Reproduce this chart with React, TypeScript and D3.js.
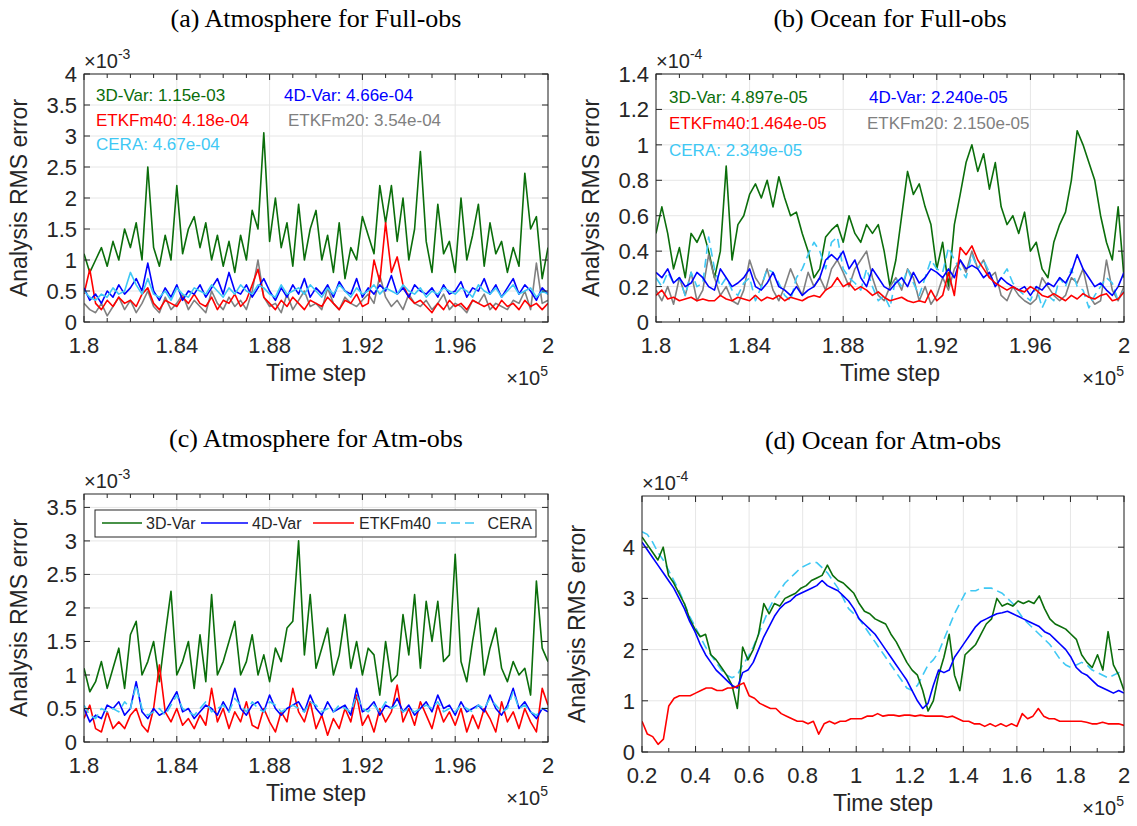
import * as d3 from 'd3'

// ---- data ----
// panels a-c: time steps 1.8e5 .. 2.0e5, evenly spaced samples
const aVar3 = [1.1,0.8,1.0,1.2,0.9,1.3,1.0,1.5,1.2,1.6,1.0,2.5,1.2,0.9,1.4,1.0,2.2,1.1,1.5,1.7,1.2,1.6,1.0,1.4,0.9,1.3,0.8,1.4,1.0,1.8,1.5,3.05,1.3,2.0,1.2,1.6,0.9,1.9,1.0,1.5,1.8,1.0,1.4,0.8,1.6,0.7,1.2,1.0,1.7,1.4,1.1,2.2,1.6,2.2,1.3,2.0,1.0,1.5,2.75,1.3,0.8,1.9,1.1,1.3,0.8,2.0,1.0,1.4,1.9,0.9,1.6,1.1,1.3,0.8,1.2,0.9,2.4,1.5,1.7,0.7,1.2]
const aVar4 = [0.55,0.35,0.45,0.3,0.5,0.4,0.6,0.45,0.55,0.7,0.5,0.95,0.5,0.35,0.55,0.4,0.6,0.35,0.5,0.45,0.6,0.4,0.55,0.7,0.45,0.8,0.5,0.45,0.6,0.4,0.55,0.7,0.5,0.35,0.55,0.4,0.6,0.45,0.7,0.4,0.55,0.45,0.6,0.4,0.65,0.5,0.45,0.7,0.4,0.55,0.45,0.6,0.5,0.75,0.45,0.55,0.4,0.6,0.5,0.45,0.55,0.4,0.6,0.45,0.5,0.65,0.4,0.55,0.5,0.7,0.45,0.6,0.4,0.55,0.7,0.45,0.6,0.5,0.35,0.55,0.45]
const aCera = [0.5,0.4,0.35,0.45,0.4,0.55,0.45,0.5,0.8,0.6,0.45,0.7,0.45,0.4,0.5,0.35,0.55,0.45,0.4,0.55,0.5,0.45,0.6,0.5,0.4,0.55,0.45,0.6,0.5,0.45,0.6,0.55,0.45,0.4,0.6,0.45,0.5,0.55,0.45,0.6,0.5,0.4,0.55,0.45,0.6,0.5,0.4,0.55,0.45,0.5,0.6,0.45,0.55,0.5,0.45,0.6,0.5,0.45,0.55,0.4,0.5,0.45,0.55,0.5,0.45,0.55,0.5,0.4,0.6,0.5,0.45,0.55,0.4,0.5,0.6,0.45,0.5,0.55,0.4,0.5,0.45]
const aEtkf40 = [0.45,0.85,0.3,0.2,0.35,0.25,0.4,0.3,0.35,0.25,0.45,0.55,0.3,0.2,0.35,0.3,0.25,0.4,0.3,0.45,0.3,0.25,0.4,0.2,0.35,0.3,0.45,0.25,0.35,0.6,0.85,0.4,0.3,0.2,0.35,0.25,0.4,0.3,0.2,0.35,0.3,0.25,0.4,0.3,0.2,0.35,0.3,0.45,0.25,0.3,1.0,0.65,1.6,0.8,1.05,0.6,0.4,0.3,0.35,0.25,0.15,0.3,0.2,0.35,0.25,0.3,0.2,0.35,0.3,0.25,0.3,0.2,0.35,0.25,0.3,0.2,0.35,0.25,0.3,0.2,0.3]
const aEtkf20 = [0.3,0.2,0.15,0.3,0.1,0.25,0.4,0.2,0.35,0.15,0.3,0.5,0.25,0.15,0.4,0.2,0.3,0.45,0.2,0.35,0.25,0.15,0.5,0.3,0.2,0.4,0.25,0.35,0.2,0.5,1.0,0.4,0.25,0.3,0.15,0.45,0.2,0.35,0.5,0.25,0.3,0.2,0.55,0.3,0.2,0.4,0.3,0.25,0.35,0.45,0.3,0.75,0.4,0.25,0.35,0.2,0.45,0.3,0.25,0.35,0.2,0.3,0.45,0.2,0.3,0.25,0.15,0.35,0.3,0.45,0.2,0.3,0.25,0.2,0.35,0.3,0.5,0.2,0.95,0.3,0.35]

const bVar3 = [0.5,0.65,0.5,0.3,0.42,0.25,0.5,0.45,0.52,0.4,0.25,0.4,0.88,0.35,0.55,0.6,0.72,0.78,0.7,0.8,0.65,0.82,0.7,0.6,0.62,0.5,0.4,0.25,0.3,0.48,0.52,0.55,0.45,0.6,0.5,0.45,0.55,0.5,0.55,0.4,0.2,0.35,0.6,0.85,0.72,0.78,0.65,0.55,0.3,0.45,0.2,0.55,0.72,0.9,1.0,0.85,0.95,0.75,0.9,0.65,0.55,0.6,0.5,0.62,0.4,0.45,0.3,0.25,0.45,0.55,0.62,0.8,1.08,1.0,0.9,0.8,0.6,0.45,0.35,0.65,0.25]
const bVar4 = [0.28,0.25,0.3,0.22,0.25,0.2,0.22,0.28,0.25,0.2,0.18,0.3,0.25,0.2,0.22,0.25,0.3,0.2,0.18,0.22,0.28,0.2,0.18,0.15,0.2,0.15,0.18,0.2,0.25,0.35,0.38,0.35,0.4,0.3,0.35,0.25,0.2,0.3,0.25,0.2,0.18,0.22,0.25,0.2,0.28,0.22,0.25,0.3,0.28,0.25,0.3,0.25,0.35,0.3,0.32,0.3,0.25,0.28,0.2,0.25,0.22,0.2,0.18,0.2,0.15,0.2,0.18,0.22,0.2,0.25,0.22,0.28,0.38,0.3,0.25,0.2,0.22,0.18,0.15,0.2,0.28]
const bCera = [0.25,0.2,0.28,0.22,0.25,0.15,0.28,0.2,0.22,0.48,0.3,0.2,0.25,0.18,0.15,0.22,0.25,0.12,0.2,0.3,0.28,0.22,0.15,0.12,0.25,0.3,0.38,0.45,0.4,0.3,0.45,0.48,0.3,0.25,0.22,0.18,0.3,0.2,0.12,0.15,0.08,0.25,0.2,0.3,0.22,0.15,0.25,0.35,0.3,0.28,0.42,0.35,0.3,0.25,0.38,0.3,0.35,0.28,0.2,0.25,0.3,0.22,0.18,0.15,0.12,0.2,0.08,0.15,0.12,0.25,0.2,0.3,0.2,0.18,0.08,0.15,0.2,0.25,0.22,0.12,0.18]
const bEtkf40 = [0.15,0.18,0.13,0.14,0.12,0.13,0.14,0.12,0.13,0.12,0.12,0.15,0.13,0.12,0.14,0.13,0.12,0.15,0.12,0.14,0.13,0.15,0.12,0.14,0.13,0.12,0.14,0.15,0.14,0.18,0.2,0.25,0.2,0.22,0.18,0.2,0.18,0.15,0.17,0.14,0.12,0.13,0.14,0.12,0.11,0.12,0.11,0.18,0.12,0.15,0.28,0.15,0.42,0.38,0.43,0.35,0.3,0.25,0.22,0.2,0.18,0.2,0.18,0.17,0.2,0.18,0.15,0.14,0.16,0.14,0.12,0.15,0.13,0.16,0.14,0.13,0.15,0.16,0.12,0.13,0.17]
const bEtkf20 = [0.18,0.12,0.2,0.1,0.25,0.15,0.28,0.12,0.18,0.38,0.25,0.15,0.2,0.12,0.1,0.18,0.35,0.25,0.2,0.3,0.18,0.12,0.2,0.3,0.22,0.15,0.28,0.2,0.25,0.18,0.3,0.35,0.28,0.2,0.3,0.35,0.4,0.25,0.15,0.12,0.2,0.25,0.18,0.3,0.25,0.12,0.2,0.1,0.15,0.25,0.18,0.3,0.35,0.28,0.4,0.3,0.35,0.25,0.28,0.15,0.12,0.2,0.15,0.12,0.1,0.13,0.25,0.2,0.15,0.12,0.15,0.25,0.22,0.3,0.15,0.1,0.12,0.35,0.18,0.12,0.2]

const cVar3 = [1.1,0.75,0.9,1.2,0.8,1.1,1.4,0.8,1.6,1.8,1.0,1.2,1.5,0.9,1.6,2.25,1.0,1.2,1.5,0.8,1.6,0.9,2.2,1.0,1.2,1.5,1.8,1.0,1.2,1.6,1.0,1.3,0.9,1.4,1.2,1.7,1.8,3.0,1.3,2.2,1.1,1.4,1.7,1.0,1.3,1.9,1.1,1.5,1.0,1.4,1.3,0.7,1.5,0.9,1.0,1.9,1.3,2.2,1.1,2.1,1.5,2.1,1.2,1.3,2.8,1.2,0.9,1.5,2.0,1.0,1.4,1.7,1.1,0.9,1.2,1.0,1.1,0.7,2.4,1.4,1.2]
const cVar4 = [0.5,0.3,0.4,0.35,0.55,0.5,0.6,0.4,0.5,0.9,0.45,0.35,0.5,0.4,0.45,0.6,0.75,0.45,0.5,0.35,0.45,0.55,0.5,0.4,0.6,0.45,0.8,0.5,0.4,0.55,0.6,0.45,0.7,0.5,0.4,0.5,0.55,0.6,0.45,0.7,0.5,0.4,0.6,0.45,0.5,0.55,0.4,0.8,0.45,0.5,0.6,0.4,0.55,0.5,0.65,0.45,0.55,0.4,0.5,0.6,0.45,0.7,0.5,0.55,0.4,0.6,0.45,0.5,0.55,0.45,0.7,0.5,0.4,0.55,0.8,0.5,0.6,0.45,0.35,0.5,0.45]
const cCera = [0.55,0.4,0.35,0.5,0.45,0.5,0.45,0.6,0.5,0.85,0.5,0.4,0.45,0.5,0.4,0.55,0.7,0.5,0.45,0.4,0.5,0.6,0.45,0.5,0.55,0.45,0.65,0.55,0.45,0.6,0.5,0.45,0.6,0.55,0.45,0.5,0.55,0.5,0.45,0.6,0.55,0.45,0.5,0.45,0.55,0.5,0.45,0.7,0.5,0.45,0.55,0.45,0.6,0.5,0.55,0.45,0.5,0.45,0.5,0.55,0.5,0.6,0.45,0.5,0.45,0.55,0.5,0.45,0.55,0.5,0.65,0.55,0.45,0.5,0.75,0.5,0.55,0.45,0.4,0.5,0.5]
const cEtkf40 = [0.35,0.55,0.2,0.15,0.45,0.2,0.3,0.2,0.4,0.5,0.25,0.15,0.5,1.15,0.45,0.3,0.5,0.25,0.35,0.2,0.4,0.25,0.8,0.3,0.5,0.2,0.45,0.3,0.6,0.25,0.2,0.5,0.3,0.15,0.45,0.3,0.8,0.45,0.3,0.6,0.2,0.4,0.1,0.35,0.2,0.5,0.3,0.7,0.25,0.4,0.15,0.5,0.3,0.45,0.85,0.3,0.5,0.25,0.6,0.4,0.2,0.55,0.3,0.45,0.25,0.5,0.15,0.4,0.2,0.5,0.35,0.15,0.6,0.3,0.45,0.2,0.5,0.3,0.15,0.8,0.55]

// panel d: time steps 0.2e5 .. 2.0e5
const dVar3 = [4.2,4.05,3.9,3.75,4.0,3.45,3.3,3.1,2.9,2.6,2.4,2.25,2.3,1.9,1.8,1.65,1.5,1.3,0.85,2.05,1.8,2.0,2.3,2.9,2.7,2.9,2.85,3.0,3.05,3.1,3.2,3.25,3.35,3.4,3.45,3.65,3.45,3.35,3.3,3.2,3.1,2.9,2.75,2.7,2.6,2.55,2.5,2.3,2.15,1.95,1.75,1.6,1.5,1.2,0.8,1.0,1.5,1.85,2.3,1.5,1.2,1.9,2.0,2.1,2.3,2.5,2.6,3.0,2.85,2.9,2.85,2.95,2.9,2.95,2.9,3.05,2.8,2.6,2.5,2.45,2.4,2.3,2.2,1.9,1.75,1.65,1.9,1.6,2.35,1.7,1.5,1.2]
const dVar4 = [4.1,3.95,3.8,3.65,3.5,3.35,3.2,3.0,2.8,2.55,2.35,2.1,1.9,1.75,1.6,1.5,1.4,1.3,1.25,1.55,1.6,1.75,2.0,2.25,2.45,2.65,2.8,2.9,2.95,3.05,3.1,3.15,3.2,3.25,3.35,3.25,3.2,3.15,3.05,2.95,2.8,2.6,2.5,2.4,2.3,2.15,2.0,1.85,1.7,1.55,1.4,1.2,1.0,0.85,0.95,1.3,1.6,1.55,1.6,1.85,2.0,2.15,2.3,2.45,2.55,2.6,2.65,2.7,2.72,2.75,2.7,2.65,2.6,2.55,2.5,2.45,2.35,2.3,2.2,2.1,2.0,1.85,1.65,1.55,1.5,1.4,1.3,1.25,1.2,1.15,1.2,1.15]
const dCera = [4.3,4.25,4.1,3.9,3.75,3.55,3.35,3.15,2.9,2.65,2.45,2.25,2.05,1.9,1.75,1.6,1.5,1.45,1.5,1.7,1.85,2.05,2.3,2.55,2.8,3.0,3.15,3.3,3.4,3.5,3.6,3.65,3.7,3.7,3.6,3.5,3.35,3.2,3.0,2.8,2.7,2.6,2.45,2.3,2.15,2.0,1.85,1.7,1.55,1.4,1.25,1.2,1.3,1.5,1.7,1.8,1.95,2.2,2.45,2.7,2.9,3.1,3.15,3.15,3.2,3.2,3.2,3.15,3.1,3.0,2.9,2.75,2.6,2.5,2.4,2.3,2.2,2.1,1.95,1.8,1.7,1.65,1.7,1.75,1.7,1.6,1.55,1.5,1.45,1.5,1.55,1.6]
const dEtkf40 = [0.6,0.35,0.3,0.15,0.25,0.9,1.05,1.1,1.1,1.1,1.15,1.2,1.25,1.25,1.2,1.2,1.25,1.25,1.3,1.35,1.1,1.05,0.95,0.9,0.85,0.85,0.75,0.7,0.65,0.6,0.6,0.55,0.6,0.35,0.55,0.6,0.55,0.6,0.6,0.65,0.65,0.65,0.7,0.7,0.75,0.7,0.72,0.72,0.7,0.72,0.72,0.7,0.72,0.7,0.7,0.7,0.7,0.68,0.7,0.65,0.6,0.6,0.55,0.55,0.5,0.55,0.5,0.55,0.5,0.55,0.5,0.75,0.65,0.7,0.85,0.7,0.65,0.65,0.6,0.6,0.6,0.6,0.6,0.58,0.55,0.55,0.58,0.55,0.55,0.55,0.52]

const abcXTicks = [1.8, 1.84, 1.88, 1.92, 1.96, 2]
const dXTicks = [0.2, 0.4, 0.6, 0.8, 1, 1.2, 1.4, 1.6, 1.8, 2]

const GREEN = '#0b6e0b'
const BLUE = '#0000ff'
const RED = '#ff0000'
const GRAY = '#808080'
const CYAN = '#3fc8f4'
const AXIS = '#262626'
const SANS = 'Liberation Sans, Arial, sans-serif'
const SERIF = 'Liberation Serif, DejaVu Serif, serif'

interface Series { values: number[]; color: string; dashed?: boolean }
interface Label { text: string; color: string; x: number; y: number }
interface PanelProps {
  title: string
  left: number; right: number; top: number; bottom: number
  xDomain: [number, number]; xTicks: number[]; xMinor: number
  yDomain: [number, number]; yTicks: number[]; yExp: string
  series: Series[]
  labels?: Label[]
  legend?: boolean
}

function Panel(p: PanelProps) {
  const x = d3.scaleLinear().domain(p.xDomain).range([p.left, p.right])
  const y = d3.scaleLinear().domain(p.yDomain).range([p.bottom, p.top])
  const minor = d3.range(p.xDomain[0], p.xDomain[1] + 1e-9, p.xMinor)
  const line = (vals: number[]) => {
    const t = d3.scaleLinear().domain([0, vals.length - 1]).range(p.xDomain)
    return d3.line<number>().x((_, i) => x(t(i))).y(v => y(v))(vals) ?? ''
  }
  const fmt = (v: number) => String(+v.toFixed(2))
  const cx = (p.left + p.right) / 2
  return (
    <g>
      <text x={cx} y={p.top - 47} textAnchor="middle" fontFamily={SERIF} fontSize={26}>{p.title}</text>
      {p.yTicks.map(v => <line key={'gy' + v} x1={p.left} x2={p.right} y1={y(v)} y2={y(v)} stroke="#e6e6e6" />)}
      {p.xTicks.map(v => <line key={'gx' + v} x1={x(v)} x2={x(v)} y1={p.top} y2={p.bottom} stroke="#e6e6e6" />)}
      <clipPath id={'clip' + p.left + p.top}><rect x={p.left} y={p.top} width={p.right - p.left} height={p.bottom - p.top} /></clipPath>
      <g clipPath={`url(#clip${p.left}${p.top})`}>
        {p.series.map((s, i) => (
          <path key={i} d={line(s.values)} fill="none" stroke={s.color} strokeWidth={1.6}
            strokeDasharray={s.dashed ? '9,5' : undefined} strokeLinejoin="round" />
        ))}
      </g>
      <rect x={p.left} y={p.top} width={p.right - p.left} height={p.bottom - p.top} fill="none" stroke={AXIS} strokeWidth={1} />
      {minor.map(v => {
        const major = p.xTicks.some(t => Math.abs(t - v) < 1e-6)
        const len = major ? 6 : 4
        return <g key={'mx' + v}>
          <line x1={x(v)} x2={x(v)} y1={p.bottom} y2={p.bottom - len} stroke={AXIS} />
          <line x1={x(v)} x2={x(v)} y1={p.top} y2={p.top + len} stroke={AXIS} />
        </g>
      })}
      {p.yTicks.map(v => <g key={'ty' + v}>
        <line x1={p.left} x2={p.left + 6} y1={y(v)} y2={y(v)} stroke={AXIS} />
        <line x1={p.right} x2={p.right - 6} y1={y(v)} y2={y(v)} stroke={AXIS} />
        <text x={p.left - 7} y={y(v) + 8} textAnchor="end" fontFamily={SANS} fontSize={22} fill={AXIS}>{fmt(v)}</text>
      </g>)}
      {p.xTicks.map(v => (
        <text key={'tx' + v} x={x(v)} y={p.bottom + 31} textAnchor="middle" fontFamily={SANS} fontSize={22} fill={AXIS}>{fmt(v)}</text>
      ))}
      <text x={cx} y={p.bottom + 59} textAnchor="middle" fontFamily={SANS} fontSize={23} fill={AXIS}>Time step</text>
      <text x={p.right} y={p.bottom + 63} textAnchor="end" fontFamily={SANS} fontSize={20} fill={AXIS}>
        ×10<tspan dy={-9} fontSize={14}>5</tspan>
      </text>
      <text x={p.left} y={p.top - 6} fontFamily={SANS} fontSize={20} fill={AXIS}>
        ×10<tspan dy={-9} fontSize={14}>{p.yExp}</tspan>
      </text>
      <text transform={`translate(${p.left - 57},${(p.top + p.bottom) / 2}) rotate(-90)`} textAnchor="middle"
        fontFamily={SANS} fontSize={23} fill={AXIS}>Analysis RMS error</text>
      {p.labels?.map(l => (
        <text key={l.text} x={l.x} y={l.y} fontFamily={SANS} fontSize={17} fill={l.color}>{l.text}</text>
      ))}
      {p.legend && (
        <g fontFamily={SANS} fontSize={16} fill={AXIS}>
          <rect x={95} y={510} width={441} height={27} fill="#fff" stroke={AXIS} />
          <line x1={102} x2={142} y1={523} y2={523} stroke={GREEN} strokeWidth={1.6} />
          <text x={146} y={529}>3D-Var</text>
          <line x1={201} x2={248} y1={523} y2={523} stroke={BLUE} strokeWidth={1.6} />
          <text x={252} y={529}>4D-Var</text>
          <line x1={313} x2={354} y1={523} y2={523} stroke={RED} strokeWidth={1.6} />
          <text x={359} y={529}>ETKFm40</text>
          <line x1={437} x2={478} y1={523} y2={523} stroke={CYAN} strokeWidth={1.6} strokeDasharray="9,5" />
          <text x={532} y={529} textAnchor="end">CERA</text>
        </g>
      )}
    </g>
  )
}

export default function App() {
  return (
    <svg width={1137} height={826} style={{ display: 'block', background: '#fff', position: 'absolute', left: 0, top: 0 }}>
      <Panel title="(a) Atmosphere for Full-obs" left={84} right={548} top={74} bottom={322}
        xDomain={[1.8, 2]} xTicks={abcXTicks} xMinor={0.01}
        yDomain={[0, 4]} yTicks={d3.range(0, 4.01, 0.5)} yExp="-3"
        series={[
          { values: aVar3, color: GREEN }, { values: aEtkf20, color: GRAY },
          { values: aEtkf40, color: RED }, { values: aVar4, color: BLUE }, { values: aCera, color: CYAN },
        ]}
        labels={[
          { text: '3D-Var: 1.15e-03', color: GREEN, x: 96, y: 101 },
          { text: '4D-Var: 4.66e-04', color: BLUE, x: 284, y: 101 },
          { text: 'ETKFm40: 4.18e-04', color: RED, x: 96, y: 126 },
          { text: 'ETKFm20: 3.54e-04', color: GRAY, x: 288, y: 126 },
          { text: 'CERA: 4.67e-04', color: CYAN, x: 96, y: 150 },
        ]} />
      <Panel title="(b) Ocean for Full-obs" left={656} right={1124} top={74} bottom={322}
        xDomain={[1.8, 2]} xTicks={abcXTicks} xMinor={0.01}
        yDomain={[0, 1.4]} yTicks={d3.range(0, 1.41, 0.2)} yExp="-4"
        series={[
          { values: bVar3, color: GREEN }, { values: bEtkf20, color: GRAY },
          { values: bCera, color: CYAN, dashed: true }, { values: bVar4, color: BLUE }, { values: bEtkf40, color: RED },
        ]}
        labels={[
          { text: '3D-Var: 4.897e-05', color: GREEN, x: 669, y: 103 },
          { text: '4D-Var: 2.240e-05', color: BLUE, x: 869, y: 103 },
          { text: 'ETKFm40:1.464e-05', color: RED, x: 669, y: 129 },
          { text: 'ETKFm20: 2.150e-05', color: GRAY, x: 867, y: 129 },
          { text: 'CERA: 2.349e-05', color: CYAN, x: 669, y: 156 },
        ]} />
      <Panel title="(c) Atmosphere for Atm-obs" left={84} right={548} top={494} bottom={742}
        xDomain={[1.8, 2]} xTicks={abcXTicks} xMinor={0.01}
        yDomain={[0, 3.7]} yTicks={d3.range(0, 3.51, 0.5)} yExp="-3"
        series={[
          { values: cVar3, color: GREEN }, { values: cEtkf40, color: RED },
          { values: cVar4, color: BLUE }, { values: cCera, color: CYAN, dashed: true },
        ]}
        legend />
      <Panel title="(d) Ocean for Atm-obs" left={642} right={1124} top={496} bottom={752}
        xDomain={[0.2, 2]} xTicks={dXTicks} xMinor={0.1}
        yDomain={[0, 5]} yTicks={[0, 1, 2, 3, 4]} yExp="-4"
        series={[
          { values: dCera, color: CYAN, dashed: true }, { values: dVar3, color: GREEN },
          { values: dVar4, color: BLUE }, { values: dEtkf40, color: RED },
        ]} />
    </svg>
  )
}
